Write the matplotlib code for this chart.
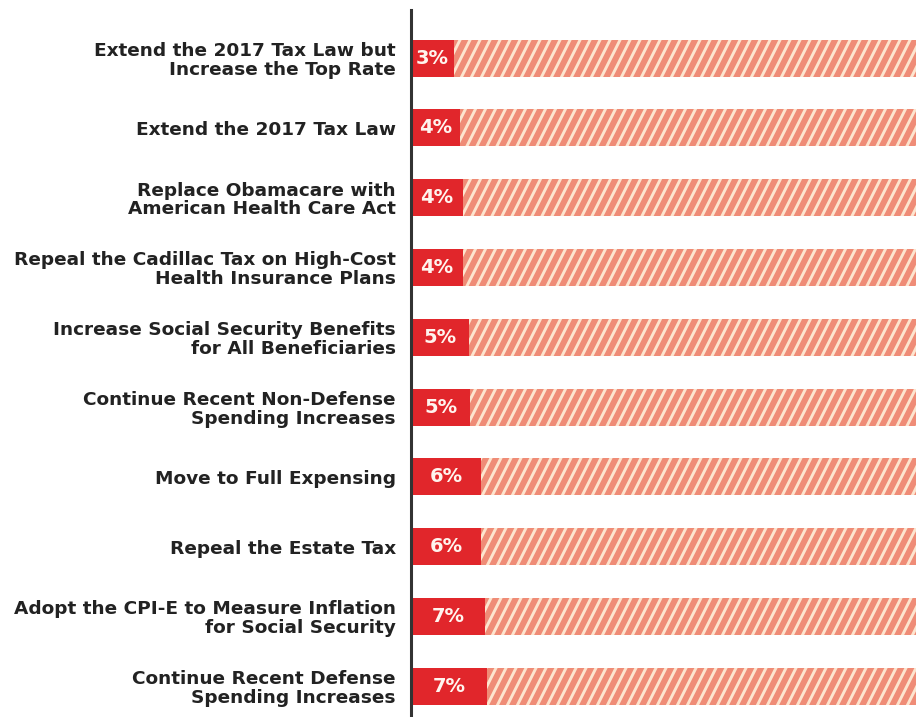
import matplotlib
matplotlib.use("Agg")
import numpy as np
import matplotlib.pyplot as plt
import matplotlib.hatch as mhatch
from matplotlib.path import Path

plt.rcParams['font.family'] = ['DejaVu Sans']
plt.rcParams['hatch.linewidth'] = 2.1

categories = [
    "Extend the 2017 Tax Law but\nIncrease the Top Rate",
    "Extend the 2017 Tax Law",
    "Replace Obamacare with\nAmerican Health Care Act",
    "Repeal the Cadillac Tax on High-Cost\nHealth Insurance Plans",
    "Increase Social Security Benefits\nfor All Beneficiaries",
    "Continue Recent Non-Defense\nSpending Increases",
    "Move to Full Expensing",
    "Repeal the Estate Tax",
    "Adopt the CPI-E to Measure Inflation\nfor Social Security",
    "Continue Recent Defense\nSpending Increases",
]
values = [3.5, 4.0, 4.2, 4.2, 4.7, 4.8, 5.7, 5.7, 6.0, 6.2]
value_labels = ["3%", "4%", "4%", "4%", "5%", "5%", "6%", "6%", "7%", "7%"]
total = 100

SOLID = "#e1262b"
SALMON = "#ef8c77"
STRIPE = "#fde5cf"


class SteepHatch(mhatch.HatchPatternBase):
    """Slanted hatch with slope 2 (about 63 degrees), 10 lines per inch."""
    def __init__(self, hatch, density):
        self.n = 10 if '/' in hatch else 0
        self.ks = np.arange(-6, 11) if self.n else np.arange(0)
        self.num_lines = len(self.ks)
        self.num_vertices = self.num_lines * 2

    def set_vertices_and_codes(self, vertices, codes):
        x0 = self.ks / self.n
        vertices[0::2, 0] = x0 - 0.05
        vertices[0::2, 1] = -0.1
        vertices[1::2, 0] = x0 + 0.55
        vertices[1::2, 1] = 1.1
        codes[0::2] = Path.MOVETO
        codes[1::2] = Path.LINETO


mhatch._hatch_types = [SteepHatch if t is mhatch.NorthEastHatch else t
                       for t in mhatch._hatch_types]

fig = plt.figure(figsize=(9.16, 7.17), dpi=100)
ax = fig.add_axes([411/916, 0.0, 1 - 411/916, 1 - 10/717])

y = list(range(len(categories)))
h = 0.53
rest = [total - v for v in values]
ax.barh(y, rest, left=values, height=h, color=SALMON, edgecolor=STRIPE,
        hatch='/', linewidth=0)
ax.barh(y, values, height=h, color=SOLID, linewidth=0)

for yi, v, lab in zip(y, values, value_labels):
    ax.text(v / 2, yi, lab, ha='center', va='center', color='#fff4ee',
            fontsize=14, fontweight='bold')

ax.set_xlim(0, (916 - 411) / 12.3)
ax.set_ylim(9.44, -0.688)
ax.set_yticks(y)
ax.set_yticklabels(categories, fontsize=13.3, fontweight='bold', color='#222222',
                   linespacing=1.05)
ax.tick_params(axis='y', length=0, pad=11)
ax.set_xticks([])
for s in ['top', 'right', 'bottom']:
    ax.spines[s].set_visible(False)
ax.spines['left'].set_linewidth(2.2)
ax.spines['left'].set_color('#333333')

fig.savefig("out.png", dpi=100)
